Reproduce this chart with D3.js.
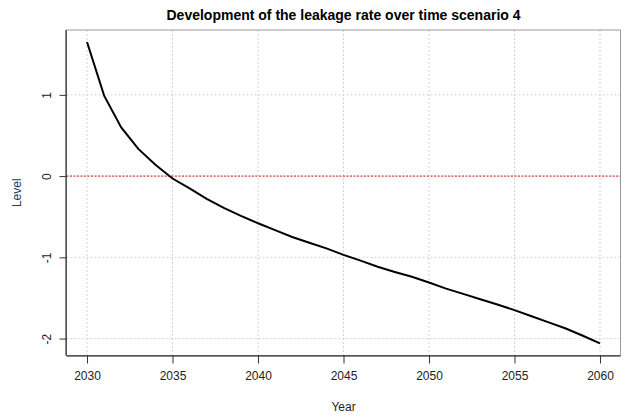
<!DOCTYPE html>
<html><head><meta charset="utf-8">
<script src="https://cdn.jsdelivr.net/npm/d3@7"></script>
<style>body{margin:0;background:#fff}svg{display:block}text{font-family:"Liberation Sans",Arial,sans-serif}</style>
</head><body><svg id="c" width="625" height="418"></svg>
<script>
const years = d3.range(2030, 2061);
const levels = [1.65, 0.99, 0.60, 0.335, 0.14, -0.03, -0.15, -0.28, -0.39, -0.49, -0.58, -0.665, -0.75, -0.82, -0.89, -0.97, -1.04, -1.115, -1.18, -1.24, -1.31, -1.385, -1.45, -1.515, -1.58, -1.65, -1.725, -1.80, -1.876, -1.965, -2.06];
const xTicks = [2030, 2035, 2040, 2045, 2050, 2055, 2060];
const yTicks = [-2, -1, 0, 1];
const title = "Development of the leakage rate over time scenario 4";
const xLabel = "Year", yLabel = "Level";

const L = 66.5, R = 620.5, T = 30, B = 355.5;
const svg = d3.select("#c");
const x = d3.scaleLinear().domain([2030 - 1.2, 2060 + 1.2]).range([L, R]);
const yMin = d3.min(levels), yMax = d3.max(levels), pad = (yMax - yMin) * 0.04;
const y = d3.scaleLinear().domain([yMin - pad, yMax + pad]).range([B, T]);

// grid
const g = svg.append("g");
g.selectAll("line.vx").data(xTicks).join("line")
  .attr("x1", d => x(d)).attr("x2", d => x(d)).attr("y1", T).attr("y2", B)
  .attr("stroke", "#d3d3d3").attr("stroke-dasharray", "2,2");
g.selectAll("line.hy").data(yTicks).join("line")
  .attr("y1", d => y(d)).attr("y2", d => y(d)).attr("x1", L).attr("x2", R)
  .attr("stroke", "#d3d3d3").attr("stroke-dasharray", "2,2");
// zero line
svg.append("line").attr("x1", L).attr("x2", R).attr("y1", y(0)).attr("y2", y(0))
  .attr("stroke", "#c8201c").attr("stroke-dasharray", "2,1.5").attr("stroke-width", 1);

// box
svg.append("rect").attr("x", L).attr("y", T).attr("width", R - L).attr("height", B - T)
  .attr("fill", "none").attr("stroke", "#999");

// line
svg.append("path").datum(years.map((yr, i) => [yr, levels[i]]))
  .attr("fill", "none").attr("stroke", "#000").attr("stroke-width", 2)
  .attr("d", d3.line().x(d => x(d[0])).y(d => y(d[1])));

const fmt = d => String(d);
// axes
const xa = svg.append("g").attr("transform", `translate(0,${B})`)
  .call(d3.axisBottom(x).tickValues(xTicks).tickFormat(fmt).tickSize(8).tickPadding(8).tickSizeOuter(0));
xa.select(".domain").attr("d", `M${L},0.5H${R}`).attr("stroke", "#111");
xa.selectAll(".tick line").attr("stroke", "#333");
xa.selectAll("text").attr("font-size", 12).attr("fill", "#222");

const ya = svg.append("g").attr("transform", `translate(${L},0)`)
  .call(d3.axisLeft(y).tickValues(yTicks).tickFormat(fmt).tickSize(7).tickPadding(0).tickSizeOuter(0));
ya.select(".domain").attr("d", `M-0.5,${T}V${B}`).attr("stroke", "#111");
ya.selectAll(".tick line").attr("stroke", "#333");
ya.selectAll(".tick text").attr("font-size", 12).attr("fill", "#222")
  .attr("x", null).attr("dy", null).attr("text-anchor", "middle")
  .attr("transform", "translate(-16,0) rotate(-90)");

// labels
svg.append("text").attr("x", (L + R) / 2).attr("y", 20).attr("text-anchor", "middle")
  .attr("font-weight", "bold").attr("font-size", 14).attr("fill", "#000").text(title);
svg.append("text").attr("x", (L + R) / 2).attr("y", 411).attr("text-anchor", "middle")
  .attr("font-size", 12).attr("fill", "#222").text(xLabel);
svg.append("text").attr("transform", `translate(21,${(T + B) / 2}) rotate(-90)`).attr("text-anchor", "middle")
  .attr("font-size", 12).attr("fill", "#2a3a5a").text(yLabel);
</script></body></html>
